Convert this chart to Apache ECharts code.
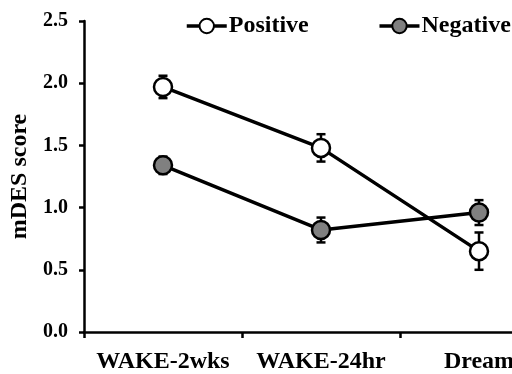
<!DOCTYPE html>
<html>
<head>
<meta charset="utf-8">
<script src="https://cdn.jsdelivr.net/npm/echarts@6/dist/echarts.min.js"></script>
<style>
  html, body { margin: 0; padding: 0; background: #fff; overflow: hidden; }
  /* the figure is cropped on the right, so the chart is drawn wider than the window */
  #chart { width: 600px; height: 374px; }
</style>
</head>
<body>
<div id="chart"></div>
<script>
const categories = ['WAKE-2wks', 'WAKE-24hr', 'Dream'];
const positiveMean = [1.97, 1.48, 0.65];
const positiveErr = [0.09, 0.11, 0.15];
const negativeMean = [1.34, 0.82, 0.96];
const negativeErr = [0.07, 0.10, 0.10];

const FONT = '"Liberation Serif", "Times New Roman", serif';

const chart = echarts.init(document.getElementById('chart'));

function errData(mean, err) {
  return mean.map((m, i) => [i, m - err[i], m + err[i]]);
}

function renderErr(params, api) {
  const x = api.value(0);
  const lo = api.coord([x, api.value(1)]);
  const hi = api.coord([x, api.value(2)]);
  const half = 4.5;
  const style = { stroke: '#000', lineWidth: 2.5 };
  return {
    type: 'group',
    children: [
      { type: 'line', shape: { x1: hi[0], y1: hi[1], x2: lo[0], y2: lo[1] }, style },
      { type: 'line', shape: { x1: hi[0] - half, y1: hi[1], x2: hi[0] + half, y2: hi[1] }, style },
      { type: 'line', shape: { x1: lo[0] - half, y1: lo[1], x2: lo[0] + half, y2: lo[1] }, style }
    ]
  };
}

const lineSeries = (name, data, fill) => ({
  name,
  type: 'line',
  data,
  z: 3,
  symbol: 'circle',
  symbolSize: 18,
  showAllSymbol: true,
  lineStyle: { color: '#000', width: 3.5 },
  itemStyle: { color: fill, borderColor: '#000', borderWidth: 2.5 },
  emphasis: { disabled: true }
});

chart.setOption({
  animation: false,
  backgroundColor: '#fff',
  grid: { left: 84, width: 474, top: 21, bottom: 40, containLabel: false },
  legend: {
    top: 9,
    left: 180,
    itemWidth: 40,
    itemHeight: 18,
    itemGap: 69,
    data: ['Positive', 'Negative'],
    lineStyle: { width: 3.5 },
    textStyle: { fontFamily: FONT, fontWeight: 'bold', fontSize: 24, color: '#000', padding: [0, 0, 0, -3] }
  },
  xAxis: {
    type: 'category',
    data: categories,
    boundaryGap: true,
    axisLine: { lineStyle: { color: '#000', width: 2.5 } },
    axisTick: { show: true, length: 6, inside: false, lineStyle: { color: '#000', width: 2.5 } },
    axisLabel: { interval: 0, fontFamily: FONT, fontWeight: 'bold', fontSize: 24, color: '#000', margin: 18 },
    splitLine: { show: false }
  },
  yAxis: {
    type: 'value',
    min: 0,
    max: 2.5,
    interval: 0.5,
    name: 'mDES score',
    nameLocation: 'middle',
    nameGap: 48,
    nameTextStyle: { fontFamily: FONT, fontWeight: 'bold', fontSize: 24, color: '#000' },
    axisLine: { show: true, lineStyle: { color: '#000', width: 2.5 } },
    axisTick: { show: true, length: 5, lineStyle: { color: '#000', width: 2.5 } },
    axisLabel: { fontFamily: FONT, fontWeight: 'bold', fontSize: 20, color: '#000', margin: 16,
      formatter: v => v.toFixed(1) },
    splitLine: { show: false }
  },
  series: [
    {
      type: 'custom',
      renderItem: renderErr,
      data: errData(positiveMean, positiveErr),
      z: 2,
      silent: true
    },
    {
      type: 'custom',
      renderItem: renderErr,
      data: errData(negativeMean, negativeErr),
      z: 2,
      silent: true
    },
    lineSeries('Positive', positiveMean, '#fff'),
    lineSeries('Negative', negativeMean, '#808080')
  ]
});
</script>
</body>
</html>
